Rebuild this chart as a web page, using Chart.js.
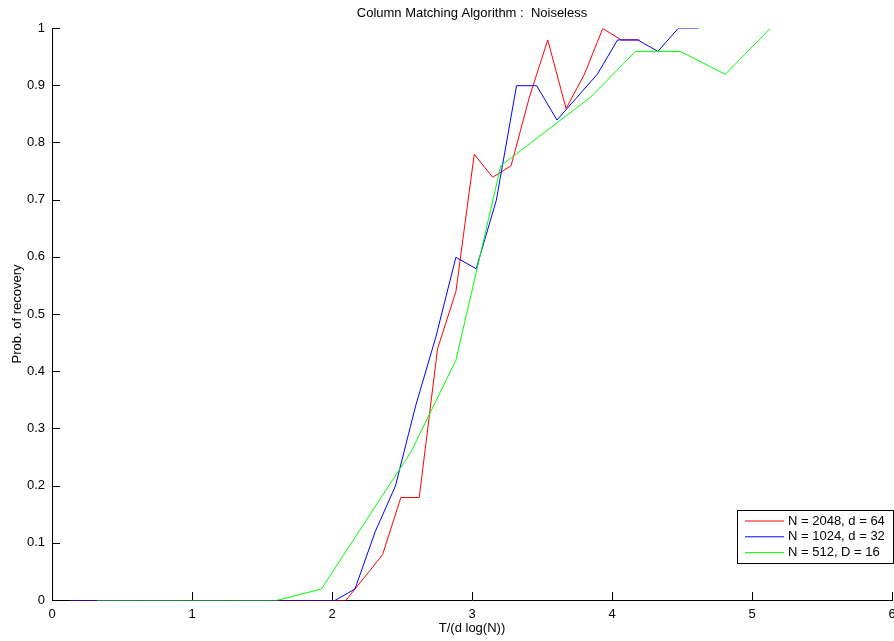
<!DOCTYPE html>
<html>
<head>
<meta charset="utf-8">
<title>Column Matching Algorithm</title>
<script src="https://cdn.jsdelivr.net/npm/chart.js@4.4.1/dist/chart.umd.min.js"></script>
<style>
    html, body { margin: 0; padding: 0; background: #fff; overflow: hidden; }
    #wrap { width: 894px; height: 641px; overflow: hidden; }
</style>
</head>
<body>
<div id="wrap"><canvas id="recoveryChart" width="920" height="641"></canvas></div>
<script>
// T/(d log N) sample points for each setting
const xN2048 = [0.131, 0.262, 0.393, 0.525, 0.656, 0.787, 0.918, 1.049, 1.180, 1.312, 1.443, 1.574, 1.705, 1.836, 1.967, 2.098,
                2.230, 2.361, 2.492, 2.623, 2.754, 2.885, 3.016, 3.148, 3.279, 3.410, 3.541, 3.672, 3.803, 3.934, 4.066, 4.197];
const xN1024 = [0.144, 0.289, 0.433, 0.577, 0.721, 0.866, 1.010, 1.154, 1.298, 1.443, 1.587, 1.731, 1.876, 2.020, 2.164, 2.308,
                2.453, 2.597, 2.741, 2.885, 3.030, 3.174, 3.318, 3.462, 3.607, 3.751, 3.895, 4.040, 4.184, 4.328, 4.472, 4.617];
const xN512 = [0.321, 0.641, 0.962, 1.282, 1.603, 1.924, 2.244, 2.565, 2.885, 3.206, 3.527, 3.847, 4.168, 4.488, 4.809, 5.130];

// probability of recovery
const pN2048 = [0, 0, 0, 0, 0, 0, 0, 0, 0, 0, 0, 0, 0, 0, 0, 0,
                0.04, 0.08, 0.18, 0.18, 0.44, 0.54, 0.78, 0.74, 0.76, 0.88, 0.98, 0.86, 0.92, 1.0, 0.98, 0.98];
const pN1024 = [0, 0, 0, 0, 0, 0, 0, 0, 0, 0, 0, 0, 0, 0, 0.02, 0.12,
                0.20, 0.34, 0.46, 0.60, 0.58, 0.70, 0.90, 0.90, 0.84, 0.88, 0.92, 0.98, 0.98, 0.96, 1.0, 1.0];
const pN512 = [0, 0, 0, 0, 0, 0.02, 0.14, 0.26, 0.42, 0.76, 0.82, 0.88, 0.96, 0.96, 0.92, 1.0];

const seriesLabels = ['N = 2048, d = 64', 'N = 1024, d = 32', 'N = 512, D = 16'];
const seriesColors = ['#ff0000', '#0000ff', '#00ff00'];

const xTicks = [0, 1, 2, 3, 4, 5, 6];
const yTicks = [0, 0.1, 0.2, 0.3, 0.4, 0.5, 0.6, 0.7, 0.8, 0.9, 1];

const FONT = { family: '"Liberation Sans", Arial, Helvetica, sans-serif', size: 13 };

function toPoints(xs, ys) {
    return xs.map((x, i) => ({ x: x, y: ys[i] }));
}

// put the 1px lines on whole pixel rows so the zero runs cover the axis
const halfPixel = {
    id: 'halfPixel',
    beforeDatasetsDraw(chart) {
        chart.ctx.save();
        chart.ctx.translate(0, 0.5);
    },
    afterDatasetsDraw(chart) {
        chart.ctx.restore();
    }
};

// inward tick marks on the bottom and left axes
const innerTicks = {
    id: 'innerTicks',
    afterDraw(chart) {
        const { ctx, chartArea, scales } = chart;
        const len = 8;
        ctx.save();
        ctx.strokeStyle = '#000';
        ctx.lineWidth = 1;
        ctx.beginPath();
        xTicks.forEach(v => {
            const px = Math.round(scales.x.getPixelForValue(v)) + 0.5;
            ctx.moveTo(px, chartArea.bottom);
            ctx.lineTo(px, chartArea.bottom - len);
        });
        yTicks.forEach(v => {
            const py = Math.round(scales.y.getPixelForValue(v)) + 0.5;
            ctx.moveTo(chartArea.left, py);
            ctx.lineTo(chartArea.left + len, py);
        });
        ctx.stroke();
        ctx.restore();
    }
};

// boxed legend in the lower right corner
const boxLegend = {
    id: 'boxLegend',
    afterDraw(chart) {
        const { ctx, chartArea } = chart;
        const left = chartArea.right - 155;
        const top = chartArea.bottom - 90;
        const w = 156, h = 53;
        ctx.save();
        ctx.fillStyle = '#fff';
        ctx.fillRect(left, top, w, h);
        ctx.strokeStyle = '#000';
        ctx.lineWidth = 1;
        ctx.strokeRect(left + 0.5, top + 0.5, w, h);
        ctx.font = FONT.size + 'px ' + FONT.family;
        ctx.textBaseline = 'middle';
        ctx.fillStyle = '#000';
        chart.data.datasets.forEach((ds, i) => {
            const y = top + 11 + i * 15.8;
            ctx.strokeStyle = ds.borderColor;
            ctx.beginPath();
            ctx.moveTo(left + 8, y);
            ctx.lineTo(left + 47, y);
            ctx.stroke();
            ctx.fillText(ds.label, left + 51, y);
        });
        ctx.restore();
    }
};

document.addEventListener('DOMContentLoaded', function() {
    const ctx = document.getElementById('recoveryChart').getContext('2d');
    const xsList = [xN2048, xN1024, xN512];
    const ysList = [pN2048, pN1024, pN512];

    new Chart(ctx, {
        type: 'line',
        data: {
            datasets: seriesLabels.map((label, i) => ({
                label: label,
                data: toPoints(xsList[i], ysList[i]),
                borderColor: seriesColors[i],
                borderWidth: 1,
                pointRadius: 0,
                tension: 0,
                fill: false,
                order: 2 - i
            }))
        },
        options: {
            responsive: false,
            animation: false,
            devicePixelRatio: 1,
            layout: { padding: { left: 0, right: 28, top: 0, bottom: 0 } },
            plugins: {
                legend: { display: false },
                tooltip: { enabled: false },
                title: {
                    display: true,
                    text: 'Column Matching Algorithm :  Noiseless',
                    fullSize: false,
                    color: '#000',
                    font: { family: FONT.family, size: FONT.size, weight: 'normal' },
                    padding: { top: 6, bottom: 6.4 }
                }
            },
            scales: {
                x: {
                    type: 'linear',
                    min: 0,
                    max: 6,
                    afterBuildTicks: axis => { axis.ticks = xTicks.map(v => ({ value: v })); },
                    afterFit: axis => { axis.height = 41; },
                    grid: { display: false, drawTicks: false },
                    border: { display: true, color: '#000', width: 1 },
                    ticks: {
                        color: '#000',
                        font: FONT,
                        padding: 7,
                        maxRotation: 0
                    },
                    title: {
                        display: true,
                        text: 'T/(d log(N))',
                        color: '#000',
                        font: FONT,
                        padding: { top: 0, bottom: 5 }
                    }
                },
                y: {
                    type: 'linear',
                    min: 0,
                    max: 1,
                    afterBuildTicks: axis => { axis.ticks = yTicks.map(v => ({ value: v })); },
                    afterFit: axis => { axis.width = 52; },
                    grid: { display: false, drawTicks: false },
                    border: { display: true, color: '#000', width: 1 },
                    ticks: {
                        color: '#000',
                        font: FONT,
                        padding: 7,
                        callback: v => String(+v.toFixed(1))
                    },
                    title: {
                        display: true,
                        text: 'Prob. of recovery',
                        color: '#000',
                        font: FONT,
                        padding: { top: 9.5, bottom: 0 }
                    }
                }
            }
        },
        plugins: [halfPixel, innerTicks, boxLegend]
    });
});
</script>
</body>
</html>
